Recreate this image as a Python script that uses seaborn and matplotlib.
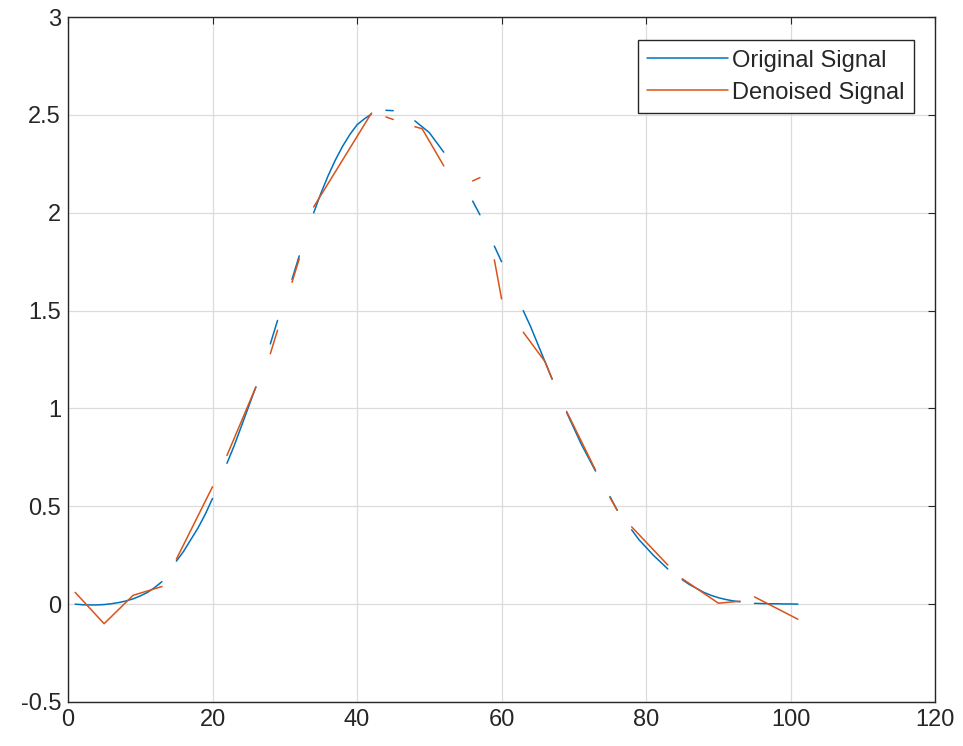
import numpy as np
import pandas as pd
import matplotlib
matplotlib.use("Agg")
import matplotlib.pyplot as plt
import seaborn as sns

nan = np.nan

# original signal, sampled at x = 1..101 (nan = gap in the plotted line)
orig_x = list(range(1, 102))
orig_y = [
    0.0, -0.003, -0.004, -0.004, -0.002, 0.002, 0.008, 0.016, 0.027, 0.042,   # 1-10
    0.06, 0.085, 0.115, nan, 0.22, 0.27, 0.33, 0.39, 0.46, 0.54,                # 11-20
    nan, 0.72, 0.81, 0.91, 1.01, 1.11, nan, 1.33, 1.45, nan,                    # 21-30
    1.66, 1.78, nan, 2.0, 2.1, 2.19, 2.27, 2.34, 2.40, 2.45,                    # 31-40
    2.48, 2.505, nan, 2.524, 2.522, nan, nan, 2.47, 2.44, 2.41,                 # 41-50
    2.36, 2.31, nan, nan, nan, 2.06, 1.99, nan, 1.83, 1.75,                     # 51-60
    nan, nan, 1.50, 1.42, 1.33, 1.24, 1.15, nan, 0.98, 0.90,                    # 61-70
    0.82, 0.75, 0.68, nan, 0.55, 0.48, nan, 0.38, 0.33, 0.29,                   # 71-80
    0.25, 0.215, 0.18, nan, 0.125, 0.10, 0.08, 0.06, 0.045, 0.033,              # 81-90
    0.024, 0.017, 0.012, nan, 0.004, 0.003, 0.002, 0.002, 0.001, 0.001, 0.0,    # 91-101
]

# denoised signal, vertices only (nan separates pieces)
den_x = [1, 5, 9, 13, nan, 15, 20, nan, 22, 26, nan, 28, 29, nan, 31, 32, nan,
         34, 42, nan, 44, 45, nan, 48, 49, 52, nan, 56, 57, nan, 59, 60, nan,
         63, 66, 67, nan, 69, 73, nan, 75, 76, nan, 78, 83, nan, 85, 90, 93, nan,
         95, 101]
den_y = [0.06, -0.10, 0.045, 0.09, nan, 0.23, 0.60, nan, 0.76, 1.11, nan, 1.28, 1.40, nan,
         1.645, 1.765, nan, 2.03, 2.51, nan, 2.49, 2.477, nan, 2.44, 2.43, 2.24, nan,
         2.163, 2.18, nan, 1.76, 1.56, nan, 1.39, 1.24, 1.15, nan, 0.985, 0.685, nan,
         0.545, 0.48, nan, 0.395, 0.20, nan, 0.13, 0.005, 0.015, nan, 0.037, -0.077]

labels = ["Original Signal", "Denoised Signal"]
colors = ["#0072BD", "#D95319"]


def to_frame(xs, ys, name):
    df = pd.DataFrame({"x": xs, "y": ys})
    df["seg"] = df["y"].isna().cumsum()
    df = df.dropna()
    df["series"] = name
    return df


data = pd.concat([to_frame(orig_x, orig_y, labels[0]),
                  to_frame(den_x, den_y, labels[1])], ignore_index=True)

sns.set_style("white")
plt.rcParams["font.family"] = ["Liberation Sans", "DejaVu Sans"]

fig = plt.figure(figsize=(9.63, 7.46), dpi=100)
ax = fig.add_axes([0.0706, 0.059, 0.9005, 0.918])

sns.lineplot(data=data, x="x", y="y", hue="series", units="seg", estimator=None,
             palette=colors, linewidth=1.1, sort=False, ax=ax)

ax.set_xlim(0, 120)
ax.set_ylim(-0.5, 3)
ax.set_xticks(np.arange(0, 121, 20))
ax.set_yticks(np.arange(-0.5, 3.01, 0.5))
ax.set_yticklabels(["-0.5", "0", "0.5", "1", "1.5", "2", "2.5", "3"])
ax.set_xlabel("")
ax.set_ylabel("")
ax.grid(True, color="#dcdcdc", linewidth=0.9)
ax.set_axisbelow(True)
for s in ax.spines.values():
    s.set_color("#262626")
    s.set_linewidth(1.0)
ax.tick_params(direction="in", length=5, width=0.8, top=True, right=True,
               labelsize=17, colors="#262626", pad=5)

handles, _ = ax.get_legend_handles_labels()
leg = ax.legend(handles, labels, loc="upper right", bbox_to_anchor=(0.9758, 0.9664),
                borderaxespad=0, fontsize=17, handlelength=3.4, handletextpad=0.2,
                fancybox=False, framealpha=1, edgecolor="#262626",
                borderpad=0.4, labelspacing=0.42)
leg.get_frame().set_linewidth(1.0)

fig.savefig("out.png", dpi=100)
